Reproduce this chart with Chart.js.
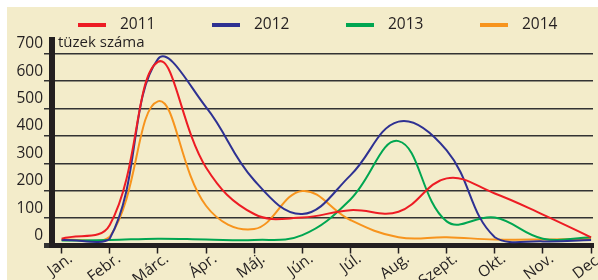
<!DOCTYPE html>
<html>
<head>
<meta charset="utf-8">
<script src="https://cdn.jsdelivr.net/npm/chart.js@4"></script>
<style>
  body { margin: 0; background: #fff; }
  #wrap { position: absolute; left: 7px; top: 7px; width: 591px; height: 273px; background: #f3ecca; }
</style>
</head>
<body>
<div id="wrap"><canvas id="tuzek" width="591" height="273"></canvas></div>
<script>
const honapok = ['Jan.', 'Febr.', 'Márc.', 'Ápr.', 'Máj.', 'Jún.', 'Júl.', 'Aug.', 'Szept.', 'Okt.', 'Nov.', 'Dec.'];
const evek = ['2011', '2012', '2013', '2014'];
const tuz2011 = [25, 75, 670, 285, 115, 102, 129, 123, 245, 190, 113, 30];
const tuz2012 = [20, 25, 680, 505, 238, 115, 256, 452, 347, 30, 15, 20];
const tuz2013 = [18, 20, 25, 22, 20, 38, 168, 381, 88, 102, 25, 30];
const tuz2014 = [22, 32, 526, 145, 60, 199, 93, 30, 30, 22, 22, 25];
const yTicks = [0, 100, 200, 300, 400, 500, 600, 700];

const szinek = ['#ed1c24', '#2e3192', '#00a651', '#f7941d'];
const sotet = '#231f20';
const betu = '"Open Sans", sans-serif';

function pontok(arr) {
    return arr.map((v, i) => ({ x: i, y: v }));
}

// legend + axis title, drawn on the canvas
const felirat = {
    id: 'felirat',
    afterDraw(chart) {
        const ctx = chart.ctx;
        const ca = chart.chartArea;
        ctx.save();
        ctx.textBaseline = 'middle';
        ctx.fillStyle = sotet;
        ctx.font = '15px ' + betu;
        ctx.fillText('tüzek száma', ca.left + 6, ca.top + 3);
        ctx.font = '15.5px ' + betu;
        chart.data.datasets.forEach((ds, i) => {
            const x = 71 + i * 134;
            const y = 18;
            ctx.strokeStyle = ds.borderColor;
            ctx.lineWidth = 4;
            ctx.beginPath();
            ctx.moveTo(x, y);
            ctx.lineTo(x + 28, y);
            ctx.stroke();
            ctx.fillStyle = sotet;
            ctx.fillText(ds.label, x + 42, y);
        });
        ctx.restore();
    }
};

const sorok = [tuz2011, tuz2012, tuz2013, tuz2014];

new Chart(document.getElementById('tuzek'), {
    type: 'line',
    data: {
        datasets: sorok.map((s, i) => ({
            label: evek[i],
            data: pontok(s),
            borderColor: szinek[i],
            backgroundColor: szinek[i],
            borderWidth: 2,
            pointRadius: 0,
            tension: 0.4,
            fill: false
        }))
    },
    options: {
        responsive: false,
        animation: false,
        layout: { padding: { top: 33, left: 0, right: 5, bottom: 0 } },
        plugins: {
            legend: { display: false },
            tooltip: { enabled: false }
        },
        scales: {
            x: {
                type: 'linear',
                min: -0.2,
                max: 11.04,
                afterBuildTicks: s => { s.ticks = honapok.map((m, i) => ({ value: i })); },
                afterFit: s => { s.height = 34.5; s.paddingLeft = 0; s.paddingRight = 0; },
                grid: { drawOnChartArea: false, drawTicks: true, tickLength: 8, tickColor: sotet, tickWidth: 1.5 },
                border: { display: true, color: sotet, width: 5 },
                ticks: {
                    autoSkip: false,
                    minRotation: 37,
                    maxRotation: 37,
                    padding: -4,
                    labelOffset: 9,
                    color: sotet,
                    font: { family: betu, size: 15.5 },
                    callback: v => honapok[v]
                }
            },
            y: {
                min: 0,
                max: 750,
                afterBuildTicks: s => { s.ticks = yTicks.map(v => ({ value: v })); },
                afterFit: s => { s.width = 45; s.paddingTop = 0; s.paddingBottom = 0; },
                grid: {
                    color: '#333333',
                    lineWidth: c => (c.tick && c.tick.value === 0 ? 5 : 1.5),
                    tickLength: 8
                },
                border: { display: true, color: sotet, width: 6 },
                ticks: {
                    padding: 1,
                    labelOffset: -10,
                    color: sotet,
                    font: { family: betu, size: 15.5 }
                }
            }
        }
    },
    plugins: [felirat]
});
</script>
</body>
</html>
